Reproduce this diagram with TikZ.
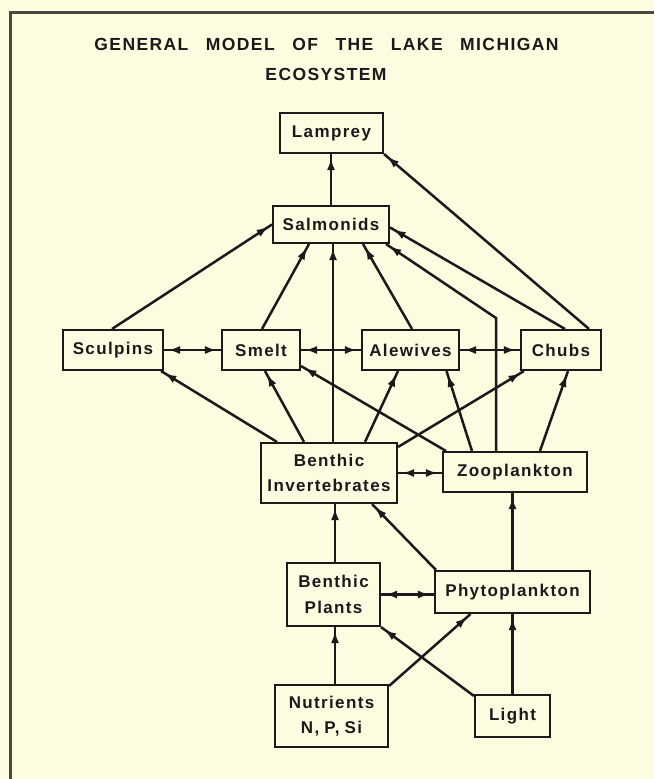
\documentclass[tikz,border=0pt]{standalone}
\usepackage{fontspec}
\setmainfont{Liberation Sans}
\newfontfamily\lblfont{Liberation Sans}[LetterSpace=8]
\newfontfamily\ttlfont{Liberation Sans}[LetterSpace=8,WordSpace=2.8]
\usetikzlibrary{arrows.meta,decorations.markings}
\definecolor{paper}{HTML}{FDFCE1}
\definecolor{ink}{HTML}{1A1A1A}
\definecolor{framec}{HTML}{4A4A45}
\tikzset{
  box/.style={draw=ink, line width=2.1pt, fill=paper, inner sep=0pt, align=center,
    font=\lblfont\bfseries\fontsize{17}{25.5}\selectfont, text=ink},
  ttl/.style={inner sep=0pt, font=\ttlfont\bfseries\fontsize{17.5}{20}\selectfont, text=ink},
  conn/.style={draw=ink, line width=2.5pt},
  fwd/.style={conn, postaction={decorate}, decoration={markings,
    mark=at position -4pt with {\arrow{Latex[length=12pt,width=8pt]}}}},
  both/.style={conn, postaction={decorate}, decoration={markings,
    mark=at position 4pt with {\arrowreversed{Latex[length=12pt,width=8pt]}},
    mark=at position -4pt with {\arrow{Latex[length=12pt,width=8pt]}}}},
  framel/.style={draw=framec, line width=3pt}
}
\begin{document}
\begin{tikzpicture}[x=1pt,y=-1pt]
\fill[paper] (0,0) rectangle (654,779);
\useasboundingbox (0,0) rectangle (654,779);
\coordinate (fa) at (10,779);
\coordinate (fb) at (10,12);
\coordinate (fc) at (654,12);
\draw[framel] (fa) -- (fb) -- (fc);

\node[ttl] (t1) at (326.5,44) {GENERAL MODEL OF THE LAKE MICHIGAN};
\node[ttl] (t2) at (326,74) {ECOSYSTEM};

\node[box, minimum width=103pt, minimum height=40pt] (lamprey) at (331.5,133) {Lamprey};
\node[box, minimum width=116pt, minimum height=37pt] (salmonids) at (331,224.5) {Salmonids};
\node[box, minimum width=100pt, minimum height=40pt] (sculpins) at (113,350) {Sculpins};
\node[box, minimum width=78pt, minimum height=40pt] (smelt) at (261,350) {Smelt};
\node[box, minimum width=97pt, minimum height=40pt] (alewives) at (410.5,350) {Alewives};
\node[box, minimum width=80pt, minimum height=40pt] (chubs) at (561,350) {Chubs};
\node[box, minimum width=136pt, minimum height=60pt] (benthinv) at (329,473) {Benthic\\Invertebrates};
\node[box, minimum width=144pt, minimum height=40pt] (zoo) at (515,472) {Zooplankton};
\node[box, minimum width=93pt, minimum height=63pt] (bplants) at (333.5,594.5) {Benthic\\Plants};
\node[box, minimum width=155pt, minimum height=42pt] (phyto) at (512.5,592) {Phytoplankton};
\node[box, minimum width=113pt, minimum height=62pt] (nutr) at (331.5,716) {Nutrients\\N,\hspace{5pt}P,\hspace{5pt}Si};
\node[box, minimum width=75pt, minimum height=42pt] (light) at (512.5,716) {Light};

% top
\draw[fwd] (salmonids.north) -- (salmonids.north |- lamprey.south);
\draw[fwd] ([xshift=28pt]chubs.north) -- (lamprey.south east);
\draw[fwd] ([xshift=-1pt]sculpins.north) -- (salmonids.west);
\draw[fwd] ([xshift=1pt]smelt.north) -- ([xshift=-22pt]salmonids.south);
\draw[fwd] ([xshift=4pt]benthinv.north) -- ([xshift=4pt]benthinv.north |- salmonids.south);
\draw[fwd] ([xshift=1.5pt]alewives.north) -- ([xshift=32pt]salmonids.south);
\coordinate (bend) at (496,318);
\draw[fwd] ([xshift=-19pt]zoo.north) -- (bend) -- ([xshift=-4pt]salmonids.south east);
\draw[fwd] ([xshift=4pt]chubs.north) -- ([yshift=-3pt]salmonids.east);

% fish row
\draw[both] (sculpins.east) -- (smelt.west);
\draw[both] (smelt.east) -- (alewives.west);
\draw[both] (alewives.east) -- (chubs.west);

% benthic invertebrates upward
\draw[fwd] ([xshift=-52pt]benthinv.north) -- ([xshift=-3pt]sculpins.south east);
\draw[fwd] ([xshift=-25pt]benthinv.north) -- ([xshift=4pt]smelt.south);
\draw[fwd] ([xshift=36pt]benthinv.north) -- ([xshift=-12.5pt]alewives.south);
\draw[fwd] ([yshift=-5pt]benthinv.north east) -- ([xshift=4pt]chubs.south west);

% zooplankton upward
\draw[fwd] ([xshift=4pt]zoo.north west) -- ([yshift=5pt]smelt.south east);
\draw[fwd] ([xshift=-43pt]zoo.north) -- ([xshift=36pt]alewives.south);
\draw[fwd] ([xshift=25pt]zoo.north) -- ([xshift=7pt]chubs.south);
\draw[both] (benthinv.east) -- (benthinv.east -| zoo.west);

% lower levels
\draw[fwd] ([xshift=1.5pt]bplants.north) -- ([xshift=1.5pt]bplants.north |- benthinv.south);
\draw[fwd] ([xshift=2pt]phyto.north west) -- ([xshift=43pt]benthinv.south);
\draw[fwd] (phyto.north) -- (phyto.north |- zoo.south);
\draw[both] (bplants.east) -- (bplants.east -| phyto.west);
\draw[fwd] ([xshift=3.5pt]nutr.north) -- ([xshift=3.5pt]nutr.north |- bplants.south);
\draw[fwd] ([yshift=-2pt]nutr.north east) -- ([xshift=-42pt]phyto.south);
\draw[fwd] ([yshift=-2pt]light.north west) -- (bplants.south east);
\draw[fwd] (light.north) -- (light.north |- phyto.south);
\end{tikzpicture}
\end{document}
